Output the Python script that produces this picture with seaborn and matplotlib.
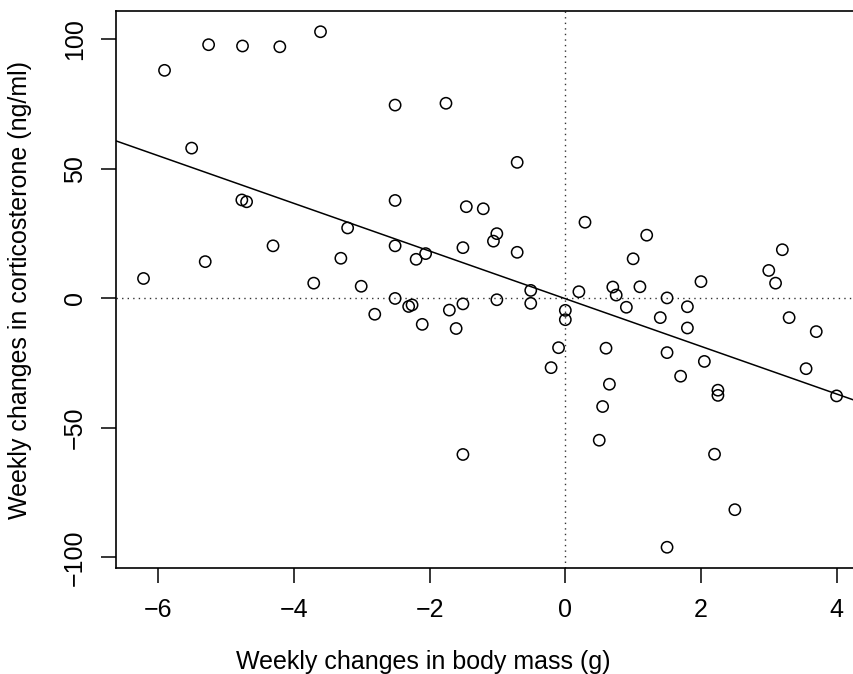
import numpy as np
import pandas as pd
import matplotlib
matplotlib.use("Agg")
import matplotlib.pyplot as plt
import seaborn as sns

# ---- data ----
mass_change = [-6.22, -5.91, -5.51, -5.31, -5.26, -4.77, -4.76, -4.70, -4.31, -4.21,
               -3.71, -3.61, -3.31, -3.21, -3.01, -2.81, -2.51, -2.51, -2.51, -2.51,
               -2.31, -2.26, -2.20, -2.11, -2.06, -1.76, -1.71, -1.61, -1.51, -1.51,
               -1.51, -1.46, -1.21, -1.06, -1.01, -1.01, -0.71, -0.71, -0.51, -0.51,
               -0.21, -0.10, 0.00, 0.00, 0.20, 0.29, 0.50, 0.55, 0.60, 0.65,
               0.70, 0.75, 0.90, 1.00, 1.10, 1.20, 1.40, 1.50, 1.50, 1.50,
               1.70, 1.80, 1.80, 2.00, 2.05, 2.20, 2.25, 2.25, 2.50, 3.00,
               3.10, 3.20, 3.30, 3.55, 3.70, 4.00]
cort_change = [7.6, 87.9, 57.9, 14.1, 97.8, 37.9, 97.3, 37.2, 20.2, 97.0,
               5.8, 102.8, 15.4, 27.1, 4.6, -6.2, 74.5, 37.7, 20.2, -0.1,
               -3.2, -2.6, 15.0, -10.1, 17.2, 75.2, -4.6, -11.7, 19.5, -2.2,
               -60.3, 35.3, 34.5, 22.0, 24.9, -0.6, 52.4, 17.7, 3.0, -2.0,
               -26.8, -19.1, -4.7, -8.3, 2.5, 29.3, -54.8, -41.8, -19.3, -33.2,
               4.3, 1.2, -3.5, 15.2, 4.4, 24.3, -7.5, 0.1, -21.0, -96.1,
               -30.1, -3.3, -11.5, 6.4, -24.4, -60.2, -35.5, -37.5, -81.6, 10.7,
               5.8, 18.7, -7.5, -27.2, -12.9, -37.7]
fit_intercept = -0.2
fit_slope = -9.19
x_ticks = [-6, -4, -2, 0, 2, 4]
y_ticks = [-100, -50, 0, 50, 100]
x_label = "Weekly changes in body mass (g)"
y_label = "Weekly changes in corticosterone (ng/ml)"

df = pd.DataFrame({"mass": mass_change, "cort": cort_change})

sns.set_style("ticks")
plt.rcParams["font.family"] = ["Liberation Sans", "DejaVu Sans"]
plt.rcParams["text.color"] = "black"
plt.rcParams["axes.labelcolor"] = "black"

W, H = 854, 674
fig = plt.figure(figsize=(W / 100, H / 100), dpi=100)
left, right, top, bottom = 115.7, 864.4, 11, 568
aw, ah = right - left, bottom - top
ax = fig.add_axes([left / W, (H - bottom) / H, aw / W, ah / H])

sns.scatterplot(data=df, x="mass", y="cort", ax=ax, s=66, facecolor="none",
                edgecolor="black", linewidth=1.1, legend=False, zorder=3)

ax.axline((0, fit_intercept), slope=fit_slope, color="black", lw=1.1, zorder=2)
ax.axhline(0, color="#333333", lw=1.0, ls=(0, (1, 3)), zorder=1)
ax.axvline(0, color="#333333", lw=1.0, ls=(0, (1, 3)), zorder=1)

ax.set_xlim(-6.63, 4.41)
ax.set_ylim(-104.1, 110.8)
ax.set_xticks(x_ticks)
ax.set_yticks(y_ticks)
ax.set_xticklabels([str(v).replace("-", "\u2212") for v in x_ticks])
ax.set_yticklabels([str(v).replace("-", "\u2212") for v in y_ticks], rotation=90, va="center")
ax.tick_params(axis="both", direction="out", length=10.8, width=1.1, labelsize=18,
               color="black", labelcolor="black")
ax.tick_params(axis="x", pad=11)
ax.tick_params(axis="y", pad=10)
for sp in ax.spines.values():
    sp.set_visible(True)
    sp.set_linewidth(1.2)
    sp.set_color("black")

ax.set_xlabel(x_label, fontsize=18, color="black")
ax.set_ylabel(y_label, fontsize=18, color="black")
ax.xaxis.label.set_va("center")
ax.yaxis.label.set_va("center")
ax.xaxis.set_label_coords((423 - left) / aw, (bottom - 662) / ah)
ax.yaxis.set_label_coords((20 - left) / aw, (bottom - 290) / ah)

fig.savefig("out.png", dpi=100)
